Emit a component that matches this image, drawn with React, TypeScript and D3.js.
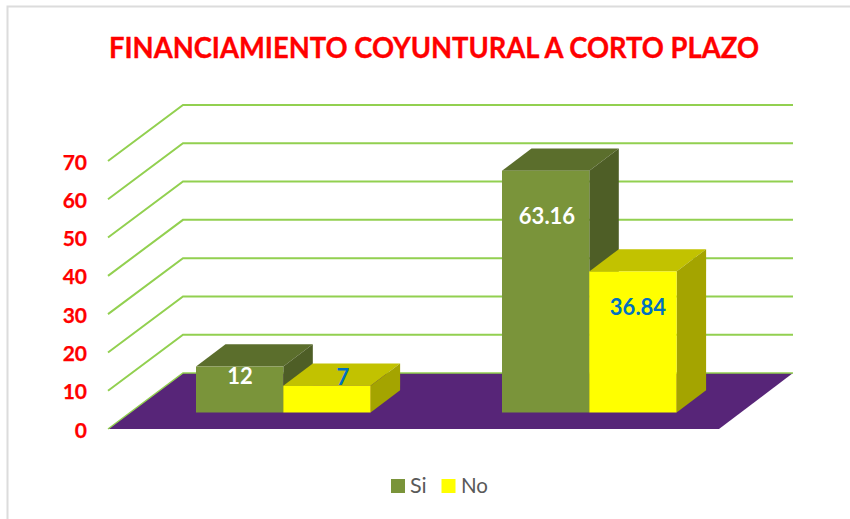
import React from "react";
import * as d3 from "d3";

const categories = ["A", "B"];
const seriesNames = ["Si", "No"];
const siValues = [12, 63.16];
const noValues = [7, 36.84];
const siLabels = ["12", "63.16"];
const noLabels = ["7", "36.84"];
const yTicks = [0, 10, 20, 30, 40, 50, 60, 70];
const title = "FINANCIAMIENTO COYUNTURAL A CORTO PLAZO";

const FONT = "Lato, Carlito, 'Open Sans', sans-serif";
const depthX = 75;
const depthY = 56;
const barDepthX = 29.5;
const barDepthY = 22.3;

const y = d3.scaleLinear().domain([0, 70]).range([429, 429 - 268]);
const x0 = d3.scaleOrdinal<string, number>().domain(categories).range([196, 502]);
const barW = 87.3;
const unit = y(0) - y(1);
const barBase = 412.5;

const poly = (pts: [number, number][]) => pts.map((p) => p.join(",")).join(" ");

function Bar({ x, v, front, top, side }: { x: number; v: number; front: string; top: string; side: string }) {
  const yt = barBase - v * unit;
  const r = x + barW;
  return (
    <g>
      <polygon fill={top} points={poly([[x, yt], [r, yt], [r + barDepthX, yt - barDepthY], [x + barDepthX, yt - barDepthY]])} />
      <polygon fill={side} points={poly([[r, yt], [r + barDepthX, yt - barDepthY], [r + barDepthX, barBase - barDepthY], [r, barBase]])} />
      <rect x={x} y={yt} width={barW} height={barBase - yt} fill={front} />
    </g>
  );
}

const boldLabel = { fontWeight: 700, fontSize: 22 };

export default function App() {
  const floorBack = y(0) - depthY;
  return (
    <svg width={850} height={519} style={{ position: "absolute", left: 0, top: 0, background: "#fff" }} fontFamily={FONT}>
      <path d="M7.5 519V6.5H850" fill="none" stroke="#dcdcdc" strokeWidth={2} />
      <text x={434} y={58} textAnchor="middle" fill="#ff0000" stroke="#ff0000" strokeWidth={0.35} fontWeight={700} fontSize={28.5} textLength={650} lengthAdjust="spacingAndGlyphs">
        {title}
      </text>

      <polygon fill="#572578" points={poly([[108, y(0)], [719, y(0)], [793, floorBack], [183, floorBack]])} />
      {yTicks.map((t) => {
        const yy = y(t);
        return (
          <g key={t}>
            <polyline
              fill="none"
              stroke="#92d050"
              strokeWidth={t > 0 ? 2 : 1.5}
              points={poly([[108, yy], [108 + depthX, yy - depthY], [793, yy - depthY]])}
            />
            <text x={87} y={yy + 8.5} textAnchor="end" fill="#ff0000" stroke="#ff0000" strokeWidth={0.25} {...boldLabel} fontSize={21}>
              {t}
            </text>
          </g>
        );
      })}

      {categories.map((c, i) => {
        const x = x0(c);
        return (
          <g key={c}>
            <Bar x={x} v={siValues[i]} front="#7a943a" top="#5b6e2c" side="#4e5e26" />
            <Bar x={x + barW} v={noValues[i]} front="#ffff00" top="#c2c200" side="#a4a400" />
          </g>
        );
      })}

      <text x={240} y={384} textAnchor="middle" fill="#fff" {...boldLabel}>{siLabels[0]}</text>
      <text x={343} y={384.5} textAnchor="middle" fill="#0070c0" {...boldLabel}>{noLabels[0]}</text>
      <text x={547} y={223.5} textAnchor="middle" fill="#fff" {...boldLabel}>{siLabels[1]}</text>
      <text x={638} y={314.5} textAnchor="middle" fill="#0070c0" {...boldLabel}>{noLabels[1]}</text>

      <rect x={391} y={479} width={14} height={14} fill="#7a943a" />
      <text x={410} y={493} fill="#595959" fontSize={21.5}>{seriesNames[0]}</text>
      <rect x={441.5} y={479} width={14} height={14} fill="#ffff00" />
      <text x={461} y={493} fill="#595959" fontSize={21.5} textLength={27} lengthAdjust="spacingAndGlyphs">{seriesNames[1]}</text>
    </svg>
  );
}
